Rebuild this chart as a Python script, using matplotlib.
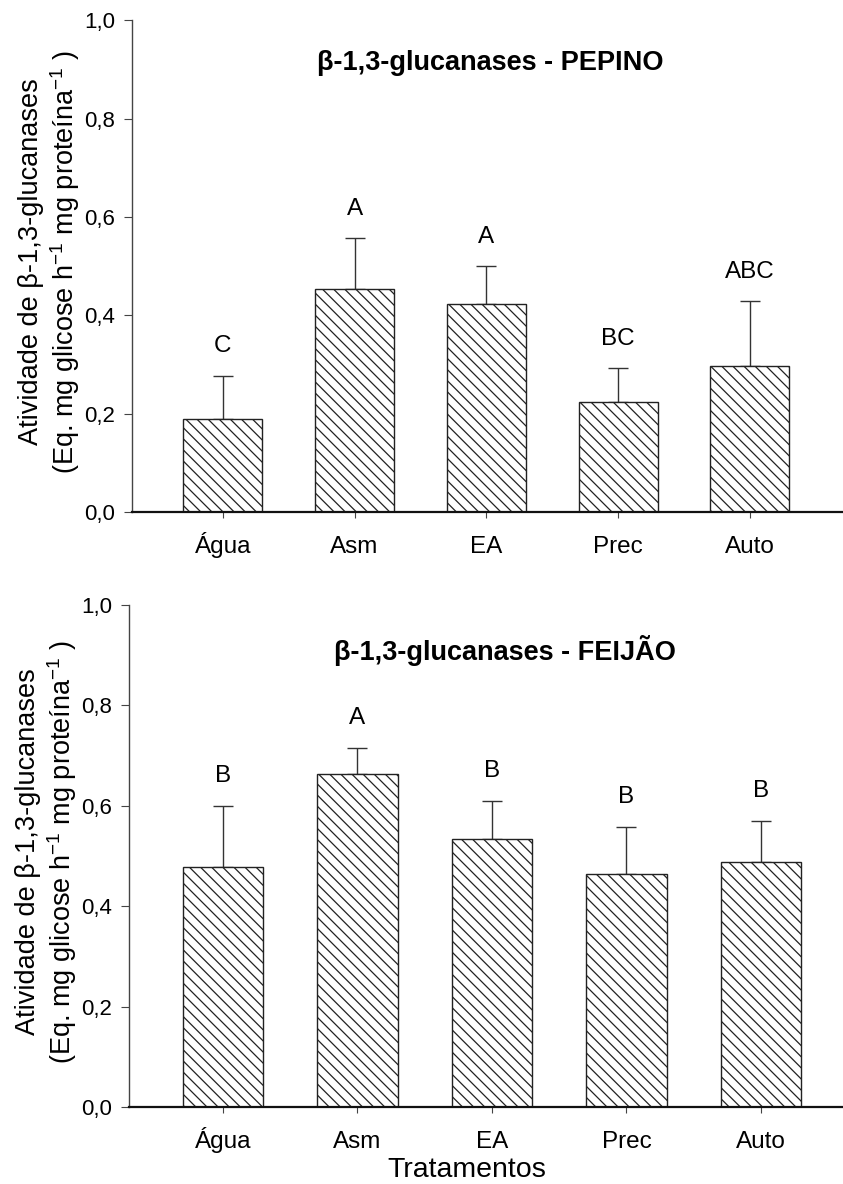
import numpy as np
import matplotlib
matplotlib.use("Agg")
import matplotlib.pyplot as plt

plt.rcParams["font.family"] = ["Liberation Sans", "DejaVu Sans"]
plt.rcParams["mathtext.fontset"] = "custom"
plt.rcParams["mathtext.rm"] = "Liberation Sans"
plt.rcParams["mathtext.it"] = "Liberation Sans"
plt.rcParams["hatch.linewidth"] = 0.9

tratamentos = ["Água", "Asm", "EA", "Prec", "Auto"]

# pepino
pep_media = [0.190, 0.453, 0.423, 0.224, 0.298]
pep_erro = [0.087, 0.104, 0.077, 0.069, 0.131]
pep_letras = ["C", "A", "A", "BC", "ABC"]

# feijão
fei_media = [0.478, 0.663, 0.534, 0.465, 0.488]
fei_erro = [0.121, 0.052, 0.076, 0.092, 0.081]
fei_letras = ["B", "A", "B", "B", "B"]

ylab = ("Atividade de β-1,3-glucanases\n"
        "(Eq. mg glicose h$^{-1}$ mg proteína$^{-1}$ )")

W, H = 843, 1184
fig = plt.figure(figsize=(W / 100, H / 100), dpi=100)

def painel(rect, media, erro, letras, titulo, xlim, titulo_xy):
    ax = fig.add_axes(rect)
    x = np.arange(len(tratamentos))
    ax.bar(x, media, width=0.6, color="white", edgecolor="#222222",
           hatch="\\\\\\", linewidth=1.0, zorder=2)
    ax.errorbar(x, media, yerr=[np.zeros(len(erro)), erro], fmt="none",
                ecolor="#333333", elinewidth=1.0, capsize=7, capthick=1.0,
                zorder=1)
    for xi, m, e, l in zip(x, media, erro, letras):
        ax.text(xi, m + e + 0.06, l, ha="center", va="center", fontsize=17.5)
    ax.set_xlim(*xlim)
    ax.set_ylim(0, 1.0)
    ax.set_yticks(np.arange(0, 1.01, 0.2))
    ax.set_yticklabels([f"{v:.1f}".replace(".", ",") for v in np.arange(0, 1.01, 0.2)])
    ax.set_xticks(x)
    ax.set_xticklabels(tratamentos)
    for t in ax.get_xticklabels():
        t.set_verticalalignment("baseline")
    ax.spines["top"].set_visible(False)
    ax.spines["right"].set_visible(False)
    ax.spines["left"].set_color("#444444")
    ax.spines["left"].set_linewidth(1.0)
    ax.spines["bottom"].set_color("#111111")
    ax.spines["bottom"].set_linewidth(1.6)
    ax.tick_params(axis="y", direction="out", length=6, width=0.8,
                   color="#444444", labelsize=16, pad=6)
    ax.tick_params(axis="x", direction="out", length=4.5, width=0.8,
                   color="#444444", labelsize=17.5, pad=25)
    ax.text(titulo_xy[0], titulo_xy[1], titulo, transform=ax.transAxes,
            ha="center", va="center", fontsize=19.5, fontweight="bold")
    return ax

ax1 = painel([132 / W, 1 - 512.3 / H, (842 - 132) / W, 492 / H],
             pep_media, pep_erro, pep_letras,
             "β-1,3-glucanases - PEPINO", (-0.69, 4.70), (0.504, 0.913))
ax2 = painel([128.7 / W, 1 - 1107 / H, (843 - 128.7) / W, 502 / H],
             fei_media, fei_erro, fei_letras,
             "β-1,3-glucanases - FEIJÃO", (-0.70, 4.61), (0.527, 0.910))

fig.text(50 / W, 1 - 262 / H, ylab, rotation=90, ha="center", va="center",
         fontsize=19.5, linespacing=1.15)
fig.text(47 / W, 1 - 852 / H, ylab, rotation=90, ha="center", va="center",
         fontsize=19.5, linespacing=1.15)
fig.text(467 / W, 1 - 1170 / H, "Tratamentos", ha="center", va="center",
         fontsize=20.5)

fig.savefig("out.png", dpi=100)
